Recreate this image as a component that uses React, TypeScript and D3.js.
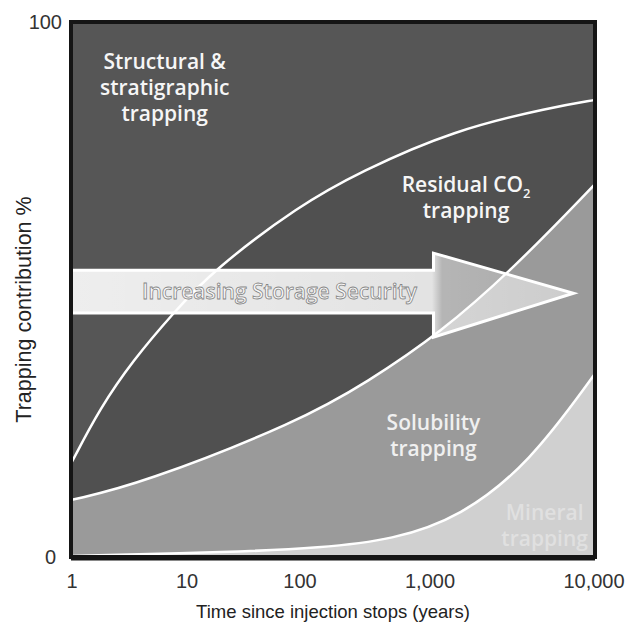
import { useEffect, useRef } from "react";
import * as d3 from "d3";

// x axis ticks (years, log axis drawn with uneven hand-placed decades)
const tickYears = [1, 10, 100, 1000, 10000];
const tickLabels = ["1", "10", "100", "1,000", "10,000"];
const yTicks = [0, 100];

// cumulative boundaries (% of trapping)
const residualTopYears = [1, 1.75, 3.4, 7.6, 17, 100, 290, 1390, 5600, 10000];
const residualTopPct = [17.8, 27.8, 36.8, 45.6, 53.6, 65.8, 72.0, 79.8, 84.1, 85.4];

const solubilityTopYears = [1, 3.9, 100, 330, 1160, 3300, 10000];
const solubilityTopPct = [10.7, 13.6, 25.4, 32.7, 41.9, 54.2, 69.5];

const mineralTopYears = [1, 25.7, 142, 520, 1540, 4040, 10000];
const mineralTopPct = [0.2, 0.9, 1.7, 3.2, 7.5, 17.5, 34.0];

const bandColors = {
  structural: "#565656",
  residual: "#505050",
  solubility: "#9a9a9a",
  mineral: "#d0d0d0",
};

type Pt = { t: number; v: number };
const zip = (ts: number[], vs: number[]): Pt[] => ts.map((t, i) => ({ t, v: vs[i] }));

export default function App() {
  const svgRef = useRef<SVGSVGElement>(null);

  useEffect(() => {
    if (!svgRef.current) return;
    const svg = d3.select(svgRef.current);
    svg.selectAll("*").remove();

    const W = 627;
    const H = 630;
    const plot = { left: 71, right: 595, top: 22, bottom: 557 };

    // piecewise linear on log10(years), matching the figure's decade spacing
    const xDec = d3
      .scaleLinear()
      .domain([0, 1, 2, 3, 4])
      .range([72, 187, 300, 430, 594]);
    const x = (t: number) => xDec(Math.log10(t));
    const y = d3.scaleLinear().domain([0, 100]).range([plot.bottom, plot.top]);

    svg.append("rect").attr("width", W).attr("height", H).attr("fill", "#fff");

    const defs = svg.append("defs");
    const grad = defs
      .append("linearGradient")
      .attr("id", "arrowFill")
      .attr("x1", "0%")
      .attr("x2", "100%");
    grad.append("stop").attr("offset", "0%").attr("stop-color", "#fff").attr("stop-opacity", 0.9);
    grad.append("stop").attr("offset", "72%").attr("stop-color", "#fff").attr("stop-opacity", 0.84);
    grad.append("stop").attr("offset", "74%").attr("stop-color", "#fff").attr("stop-opacity", 0.58);
    grad.append("stop").attr("offset", "100%").attr("stop-color", "#fff").attr("stop-opacity", 0.5);

    defs
      .append("clipPath")
      .attr("id", "plotClip")
      .append("rect")
      .attr("x", plot.left)
      .attr("y", plot.top)
      .attr("width", plot.right - plot.left)
      .attr("height", plot.bottom - plot.top);

    const g = svg.append("g").attr("clip-path", "url(#plotClip)");

    // structural & stratigraphic fills the whole frame, the rest painted on top
    g.append("rect")
      .attr("x", plot.left)
      .attr("y", plot.top)
      .attr("width", plot.right - plot.left)
      .attr("height", plot.bottom - plot.top)
      .attr("fill", bandColors.structural);

    const curve = d3.curveBasis;
    const area = d3
      .area<Pt>()
      .x((d) => x(d.t))
      .y0(y(0))
      .y1((d) => y(d.v))
      .curve(curve);
    const line = d3
      .line<Pt>()
      .x((d) => x(d.t))
      .y((d) => y(d.v))
      .curve(curve);

    const residual = zip(residualTopYears, residualTopPct);
    const solubility = zip(solubilityTopYears, solubilityTopPct);
    const mineral = zip(mineralTopYears, mineralTopPct);

    g.append("path").datum(residual).attr("fill", bandColors.residual).attr("d", area);
    g.append("path").datum(solubility).attr("fill", bandColors.solubility).attr("d", area);
    g.append("path").datum(mineral).attr("fill", bandColors.mineral).attr("d", area);

    [residual, solubility, mineral].forEach((s) => {
      g.append("path")
        .datum(s)
        .attr("fill", "none")
        .attr("stroke", "#ffffff")
        .attr("stroke-width", 2.5)
        .attr("d", line);
    });

    // big arrow
    const shaftEnd = 1050;
    const tip = 7500;
    const arrowPts: [number, number][] = [
      [x(1) - 4, y(53.6)],
      [x(shaftEnd), y(53.6)],
      [x(shaftEnd), y(56.8)],
      [x(tip), y(49.3)],
      [x(shaftEnd), y(41.1)],
      [x(shaftEnd), y(45.6)],
      [x(1) - 4, y(45.6)],
    ];
    g.append("path")
      .attr("d", d3.line()(arrowPts) + "Z")
      .attr("fill", "url(#arrowFill)")
      .attr("stroke", "#ffffff")
      .attr("stroke-width", 3)
      .attr("stroke-linejoin", "miter");

    g.append("text")
      .attr("x", x(795))
      .attr("y", y(48.2))
      .attr("text-anchor", "end")
      .style("font-family", "'Open Sans', sans-serif")
      .style("font-weight", 600)
      .style("font-size", "21px")
      .attr("fill", "#fbfbfb")
      .attr("stroke", "#7a7a7a")
      .attr("stroke-width", 0.8)
      .attr("opacity", 0.9)
      .text("Increasing Storage Security");

    // band labels
    const label = (
      t: number,
      v: number,
      lines: string[],
      opacity: number,
      sub?: boolean
    ) => {
      const txt = g
        .append("text")
        .attr("text-anchor", "middle")
        .style("font-family", "'Open Sans', sans-serif")
        .style("font-weight", 600)
        .style("font-size", "21px")
        .attr("fill", "#ffffff")
        .attr("opacity", opacity);
      lines.forEach((l, i) => {
        const ts = txt
          .append("tspan")
          .attr("x", x(t))
          .attr("y", y(v) + i * 26);
        if (sub && i === 0) {
          ts.append("tspan").text(l);
          ts.append("tspan")
            .attr("dy", 6)
            .style("font-size", "13px")
            .text("2");
        } else {
          ts.text(l);
        }
      });
    };
    label(6.4, 91.2, ["Structural &", "stratigraphic", "trapping"], 0.95);
    label(1660, 68.2, ["Residual CO", "trapping"], 0.95, true);
    label(1050, 23.7, ["Solubility", "trapping"], 0.85);
    label(5000, 6.9, ["Mineral", "trapping"], 0.35);

    // frame
    svg
      .append("rect")
      .attr("x", plot.left)
      .attr("y", plot.top)
      .attr("width", plot.right - plot.left)
      .attr("height", plot.bottom - plot.top)
      .attr("fill", "none")
      .attr("stroke", "#151515")
      .attr("stroke-width", 4);
    svg
      .append("line")
      .attr("x1", plot.left)
      .attr("x2", plot.right)
      .attr("y1", plot.bottom + 1.5)
      .attr("y2", plot.bottom + 1.5)
      .attr("stroke", "#151515")
      .attr("stroke-width", 4);

    const axisFont = "'Liberation Sans', Arial, sans-serif";

    svg
      .append("g")
      .selectAll("text")
      .data(tickYears)
      .join("text")
      .attr("x", (d) => x(d))
      .attr("y", 588)
      .attr("text-anchor", "middle")
      .style("font-family", axisFont)
      .style("font-size", "20px")
      .attr("fill", "#333")
      .text((_, i) => tickLabels[i]);

    svg
      .append("g")
      .selectAll("text")
      .data(yTicks)
      .join("text")
      .attr("x", (d) => (d === 0 ? 56 : 62))
      .attr("y", (d) => y(d) + 7)
      .attr("text-anchor", "end")
      .style("font-family", axisFont)
      .style("font-size", "20px")
      .attr("fill", "#333")
      .text((d) => String(d));

    svg
      .append("text")
      .attr("x", 333)
      .attr("y", 618)
      .attr("text-anchor", "middle")
      .style("font-family", axisFont)
      .style("font-size", "18.5px")
      .attr("fill", "#222")
      .text("Time since injection stops (years)");

    svg
      .append("text")
      .attr("transform", `translate(31, ${(plot.top + plot.bottom) / 2 + 20}) rotate(-90)`)
      .attr("text-anchor", "middle")
      .style("font-family", axisFont)
      .style("font-size", "21.5px")
      .attr("fill", "#222")
      .text("Trapping contribution %");
  }, []);

  return (
    <svg
      ref={svgRef}
      width={627}
      height={630}
      style={{ position: "absolute", left: 0, top: 0 }}
    />
  );
}
